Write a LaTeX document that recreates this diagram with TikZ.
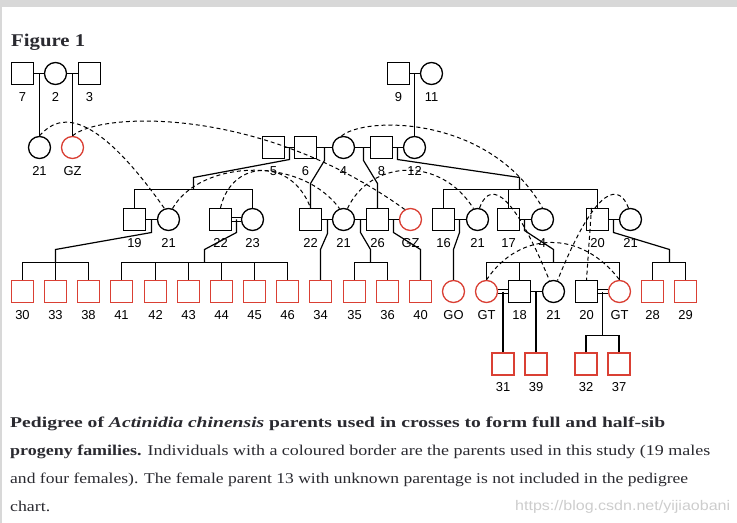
\documentclass[tikz,border=0pt]{standalone}
\usepackage{fontspec}
\usepackage{graphicx}
\setmainfont{Liberation Serif}
\newfontfamily\lblfont{Liberation Sans}
\definecolor{selred}{RGB}{218,64,52}
\definecolor{capgrey}{RGB}{42,42,48}
\definecolor{framegrey}{RGB}{216,216,216}
\definecolor{markgrey}{RGB}{205,205,205}
\newcommand{\capsize}{\fontsize{15}{18}\selectfont}
\tikzset{
  male/.style={draw, rectangle, minimum size=22bp, inner sep=0pt, line width=1.3bp},
  female/.style={draw, circle, minimum size=22bp, inner sep=0pt, line width=1.3bp},
  sel/.style={draw=selred},
  tag/.style={font=\lblfont\fontsize{13}{13}\selectfont, inner sep=0pt},
  mate/.style={line width=1.2bp},
  kin/.style={line width=1.2bp},
  same/.style={line width=1bp, dash pattern=on 4bp off 3bp},
  capline/.style={anchor=base west, inner sep=0pt, text=capgrey},
}
\begin{document}
\begin{tikzpicture}[x=1bp, y=-1bp, label distance=7bp]
\useasboundingbox (0,0) rectangle (737,523);
\fill[white] (0,0) rectangle (737,523);
\fill[framegrey] (0,0) rectangle (737,7);
\fill[framegrey] (0,7) rectangle (1.5,523);

% title
\node[capline] (title) at (11,47) {\resizebox{74bp}{\height}{\fontsize{18}{20}\selectfont\bfseries Figure 1}};

% generation 1
\node[male, label={[tag]below:7}] (m7) at (22.5,73.5) {};
\node[female, label={[tag]below:2}] (f2) at (55.5,73.5) {};
\node[male, label={[tag]below:3}] (m3) at (89.5,73.5) {};
\node[male, label={[tag]below:9}] (m9) at (398.5,73.5) {};
\node[female, label={[tag]below:11}] (f11) at (431.5,73.5) {};

% generation 2
\node[female, label={[tag]below:21}] (f21a) at (39.5,147.5) {};
\node[female, sel, label={[tag]below:GZ}] (fGZa) at (72.5,147.5) {};
\node[male, label={[tag]below:5}] (m5) at (273.5,147.5) {};
\node[male, label={[tag]below:6}] (m6) at (305.5,147.5) {};
\node[female, label={[tag]below:4}] (f4a) at (343.5,147.5) {};
\node[male, label={[tag]below:8}] (m8) at (381.5,147.5) {};
\node[female, label={[tag]below:12}] (f12) at (414.5,147.5) {};

% generation 3
\node[male, label={[tag]below:19}] (m19) at (134.5,219.5) {};
\node[female, label={[tag]below:21}] (f21b) at (168.5,219.5) {};
\node[male, label={[tag]below:22}] (m22a) at (220.5,219.5) {};
\node[female, label={[tag]below:23}] (f23) at (252.5,219.5) {};
\node[male, label={[tag]below:22}] (m22b) at (310.5,219.5) {};
\node[female, label={[tag]below:21}] (f21c) at (343.5,219.5) {};
\node[male, label={[tag]below:26}] (m26) at (377.5,219.5) {};
\node[female, sel, label={[tag]below:GZ}] (fGZb) at (410.5,219.5) {};
\node[male, label={[tag]below:16}] (m16) at (443.5,219.5) {};
\node[female, label={[tag]below:21}] (f21d) at (477.5,219.5) {};
\node[male, label={[tag]below:17}] (m17) at (508.5,219.5) {};
\node[female, label={[tag]below:4}] (f4b) at (542.5,219.5) {};
\node[male, label={[tag]below:20}] (m20a) at (597.5,219.5) {};
\node[female, label={[tag]below:21}] (f21e) at (630.5,219.5) {};

% generation 4
\node[male, sel, label={[tag]below:30}] (m30) at (22.5,291.5) {};
\node[male, sel, label={[tag]below:33}] (m33) at (55.5,291.5) {};
\node[male, sel, label={[tag]below:38}] (m38) at (88.5,291.5) {};
\node[male, sel, label={[tag]below:41}] (m41) at (121.5,291.5) {};
\node[male, sel, label={[tag]below:42}] (m42) at (155.5,291.5) {};
\node[male, sel, label={[tag]below:43}] (m43) at (188.5,291.5) {};
\node[male, sel, label={[tag]below:44}] (m44) at (221.5,291.5) {};
\node[male, sel, label={[tag]below:45}] (m45) at (254.5,291.5) {};
\node[male, sel, label={[tag]below:46}] (m46) at (287.5,291.5) {};
\node[male, sel, label={[tag]below:34}] (m34) at (320.5,291.5) {};
\node[male, sel, label={[tag]below:35}] (m35) at (354.5,291.5) {};
\node[male, sel, label={[tag]below:36}] (m36) at (387.5,291.5) {};
\node[male, sel, label={[tag]below:40}] (m40) at (420.5,291.5) {};
\node[female, sel, label={[tag]below:GO}] (fGO) at (453.5,291.5) {};
\node[female, sel, label={[tag]below:GT}] (fGTa) at (486.5,291.5) {};
\node[male, label={[tag]below:18}] (m18) at (519.5,291.5) {};
\node[female, label={[tag]below:21}] (f21f) at (553.5,291.5) {};
\node[male, label={[tag]below:20}] (m20b) at (586.5,291.5) {};
\node[female, sel, label={[tag]below:GT}] (fGTb) at (619.5,291.5) {};
\node[male, sel, label={[tag]below:28}] (m28) at (652.5,291.5) {};
\node[male, sel, label={[tag]below:29}] (m29) at (685.5,291.5) {};

% generation 5
\node[male, sel, label={[tag]below:31}] (m31) at (503,364) {};
\node[male, sel, label={[tag]below:39}] (m39) at (536,364) {};
\node[male, sel, label={[tag]below:32}] (m32) at (586,364) {};
\node[male, sel, label={[tag]below:37}] (m37) at (619,364) {};

% matings
\draw[mate] (m7) -- (f2);
\draw[mate] (f2) -- (m3);
\draw[mate] (m9) -- (f11);
\draw[mate] (m5) -- (m6);
\draw[mate] (m6) -- (f4a);
\draw[mate] (f4a) -- (m8);
\draw[mate] (m8) -- (f12);
\draw[mate] (m19) -- (f21b);
\draw[mate] ([yshift=2bp]m22a.east) -- ([yshift=2bp]f23.west);
\draw[mate] ([yshift=-2bp]m22a.east) -- ([yshift=-2bp]f23.west);
\draw[mate] (m22b) -- (f21c);
\draw[mate] (f21c) -- (m26);
\draw[mate] (m26) -- (fGZb);
\draw[mate] (m16) -- (f21d);
\draw[mate] (m17) -- (f4b);
\draw[mate] (m20a) -- (f21e);
\draw[mate] ([yshift=2bp]fGTa.east) -- ([yshift=2bp]m18.west);
\draw[mate] ([yshift=-2bp]fGTa.east) -- ([yshift=-2bp]m18.west);
\draw[mate] (m18) -- (f21f);
\draw[mate] ([yshift=2bp]m20b.east) -- ([yshift=2bp]fGTb.west);
\draw[mate] ([yshift=-2bp]m20b.east) -- ([yshift=-2bp]fGTb.west);

% descent, generation 1 to 2
\coordinate (j72) at (39.5,73.5);
\coordinate (j23) at (72.5,73.5);
\coordinate (j911) at (414.5,73.5);
\draw[kin] (j72) -- (f21a);
\draw[kin] (j23) -- (fGZa);
\draw[kin] (j911) -- (f12);

% descent, generation 2 to 3
\coordinate (j56) at (289.5,147.5);
\coordinate (s56) at (193.5,189.5);
\draw[kin] (j56) -- ++(0,12) -- (193.5,177.5) -- (s56);
\draw[kin] (m19.north) |- (f23 |- s56) -- (f23.north);
\coordinate (j64) at (324.5,147.5);
\draw[kin] (j64) -- ++(0,13) -- (310.5,183.5) -- (m22b);
\coordinate (j48) at (363.5,147.5);
\draw[kin] (j48) -- ++(0,13) -- (377.5,183.5) -- (m26);
\coordinate (j812) at (397.5,147.5);
\coordinate (s812) at (519.5,189.5);
\draw[kin] (j812) -- ++(0,12) -- (519.5,177.5) -- (s812);
\draw[kin] (m16.north) |- (m20a |- s812) -- (m20a.north);
\draw[kin] (m17.north) -- (m17 |- s812);

% descent, generation 3 to 4
\coordinate (j1921) at (151.5,219.5);
\coordinate (s1921) at (55.5,262.5);
\draw[kin] (j1921) -- ++(0,13) -- (55.5,249.5) -- (s1921);
\draw[kin] (m30.north) |- (m38 |- s1921) -- (m38.north);
\draw[kin] (m33.north) -- (s1921);
\coordinate (j2223) at (236.5,219.5);
\coordinate (s2223) at (204.5,262.5);
\draw[kin] (j2223) -- ++(0,13) -- (204.5,249.5) -- (s2223);
\draw[kin] (m41.north) |- (m46 |- s2223) -- (m46.north);
\draw[kin] (m42.north) -- (m42 |- s2223);
\draw[kin] (m43.north) -- (m43 |- s2223);
\draw[kin] (m44.north) -- (m44 |- s2223);
\draw[kin] (m45.north) -- (m45 |- s2223);
\coordinate (j2221) at (327.5,219.5);
\draw[kin] (j2221) -- ++(0,14) -- (320.5,249.5) -- (m34);
\coordinate (j2126) at (360.5,219.5);
\coordinate (s2126) at (370.5,262.5);
\draw[kin] (j2126) -- ++(0,13) -- (370.5,249.5) -- (s2126);
\draw[kin] (m35.north) |- (m36 |- s2126) -- (m36.north);
\coordinate (j26) at (393.5,219.5);
\draw[kin] (j26) -- ++(0,13) -- (420.5,249.5) -- (m40);
\coordinate (j1621) at (459.5,219.5);
\draw[kin] (j1621) -- ++(0,13) -- (453.5,249.5) -- (fGO);
\coordinate (j174) at (524.5,219.5);
\coordinate (s174) at (553.5,262.5);
\draw[kin] (j174) -- ++(0,11) -- (553.5,249.5) -- (s174);
\draw[kin] (fGTa.north) |- (fGTb |- s174) -- (fGTb.north);
\draw[kin] (m18.north) -- (m18 |- s174);
\coordinate (j2021) at (613.5,219.5);
\coordinate (s2021) at (669.5,262.5);
\draw[kin] (j2021) -- ++(0,13) -- (669.5,249.5) -- (s2021);
\draw[kin] (m28.north) |- (m29 |- s2021) -- (m29.north);

% descent, generation 4 to 5
\coordinate (j18) at (503,291.5);
\draw[kin] (j18) -- (m31);
\coordinate (j1821) at (536,291.5);
\draw[kin] (j1821) -- (m39);
\coordinate (j20) at (602.5,291.5);
\coordinate (s20) at (602.5,335.5);
\draw[kin] (j20) -- (s20);
\draw[kin] (m32.north) |- (m37 |- s20) -- (m37.north);

% same individual, drawn twice
\draw[same] (f21a.north) .. controls (60,112) and (95,110) .. (f21b.110);
\draw[same] (fGZa.north) .. controls (100,112) and (260,105) .. (fGZb.120);
\draw[same] (f4a.100) .. controls (365,116) and (490,115) .. (f4b.north);
\draw[same] (m22a.north) .. controls (232,158) and (292,158) .. (m22b.north);
\draw[same] (f21b.70) .. controls (200,160) and (300,155) .. (f21c.110);
\draw[same] (f21c.70) .. controls (370,160) and (440,155) .. (f21d.110);
\draw[same] (f21d.80) .. controls (488,185) and (508,180) .. (f21f.110);
\draw[same] (f21e.100) .. controls (620,185) and (598,180) .. (f21f.70);
\draw[same] ([xshift=-6bp]m20a.north) -- (m20b.north);
\draw[same] (fGTa.north) .. controls (520,230) and (582,230) .. (fGTb.north);

% caption
\node[capline] (cap1) at (10,427) {\resizebox{655bp}{\height}{\capsize\bfseries Pedigree of \textit{Actinidia chinensis} parents used in crosses to form full and half-sib}};
\node[capline] (cap2) at (10,455) {\resizebox{700bp}{\height}{\capsize\textbf{progeny families.} Individuals with a coloured border are the parents used in this study (19 males}};
\node[capline] (cap3) at (10,483) {\resizebox{678bp}{\height}{\capsize and four females). The female parent 13 with unknown parentage is not included in the pedigree}};
\node[capline] (cap4) at (10,511) {\resizebox{40bp}{\height}{\capsize chart.}};
\node[anchor=base west, inner sep=0pt, text=markgrey] (mark) at (515,510) {\resizebox{215bp}{\height}{\lblfont\fontsize{14}{14}\selectfont https://blog.csdn.net/yijiaobani}};
\end{tikzpicture}
\end{document}
